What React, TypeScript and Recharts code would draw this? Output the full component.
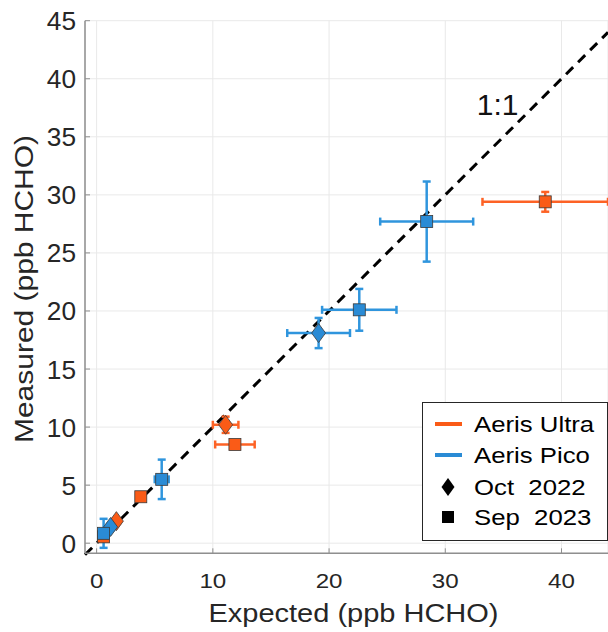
import React from "react";
import {
  ScatterChart,
  Scatter,
  XAxis,
  YAxis,
  CartesianGrid,
  ErrorBar,
  ReferenceLine,
  ReferenceDot,
  Legend,
} from "recharts";

const FONT = "'Liberation Sans', Arial, Helvetica, sans-serif";
const ORANGE = "#FA5B17";
const BLUE = "#2A8BD5";
const ORANGE_BAR = "#FD6225";
const BLUE_BAR = "#2F95DD";
const EDGE = "#3a3a3a";
const AXIS = "#8f8f8f";
const TEXT = "#262626";

// Aeris Ultra, Oct 2022 (diamonds)
const ultraOctX = [1.7, 11.1];
const ultraOctY = [1.9, 10.2];
const ultraOctXErr = [0.3, 1.1];
const ultraOctYErr = [0.2, 0.7];

// Aeris Ultra, Sep 2023 (squares)
const ultraSepX = [0.6, 3.8, 11.9, 38.6];
const ultraSepY = [0.55, 4.0, 8.5, 29.4];
const ultraSepXErr = [0.2, 0.35, 1.7, 5.4];
const ultraSepYErr = [0.2, 0.35, 0.2, 0.85];

// Aeris Pico, Oct 2022 (diamonds)
const picoOctX = [1.2, 19.1];
const picoOctY = [1.4, 18.1];
const picoOctXErr = [0.3, 2.7];
const picoOctYErr = [0.3, 1.3];

// Aeris Pico, Sep 2023 (squares)
const picoSepX = [0.6, 5.6, 22.6, 28.4];
const picoSepY = [0.85, 5.5, 20.1, 27.7];
const picoSepXErr = [0.3, 0.6, 3.2, 4.0];
const picoSepYErr = [1.25, 1.7, 1.8, 3.45];

const xTicks = [0, 10, 20, 30, 40];
const yTicks = [0, 5, 10, 15, 20, 25, 30, 35, 40, 45];
const xDomain = [-1, 44];
const yDomain = [-0.87, 45];
const oneToOne = [-1, 44];
const oneToOneLabel = { text: "1:1", x: 34.5, y: 37.8 };

const instruments = ["Aeris Ultra", "Aeris Pico"];
const campaigns = ["Oct  2022", "Sep  2023"];

function toPoints(xs: number[], ys: number[], xe: number[], ye: number[]) {
  return xs.map((x, i) => ({ x, y: ys[i], ex: xe[i], ey: ye[i] }));
}

const ultraOct = toPoints(ultraOctX, ultraOctY, ultraOctXErr, ultraOctYErr);
const ultraSep = toPoints(ultraSepX, ultraSepY, ultraSepXErr, ultraSepYErr);
const picoOct = toPoints(picoOctX, picoOctY, picoOctXErr, picoOctYErr);
const picoSep = toPoints(picoSepX, picoSepY, picoSepXErr, picoSepYErr);

const square = (fill: string) => (p: any) => (
  <rect
    x={p.cx - 6}
    y={p.cy - 6}
    width={12}
    height={12}
    fill={fill}
    stroke={EDGE}
    strokeWidth={0.8}
  />
);

const diamond = (fill: string) => (p: any) => (
  <polygon
    points={`${p.cx},${p.cy - 9.5} ${p.cx + 7},${p.cy} ${p.cx},${p.cy + 9.5} ${p.cx - 7},${p.cy}`}
    fill={fill}
    stroke={EDGE}
    strokeWidth={0.8}
  />
);

function XTick(props: any) {
  const { x, y, payload } = props;
  return (
    <g>
      <line x1={x} y1={y} x2={x} y2={y - 5} stroke={AXIS} />
      <text
        transform={`translate(${x},${y + 35}) scale(1.15,1)`}
        textAnchor="middle"
        fontSize={21}
        fontFamily={FONT}
        fill={TEXT}
      >
        {payload.value}
      </text>
    </g>
  );
}

function TopTick(props: any) {
  const { x, y } = props;
  return <line x1={x} y1={y} x2={x} y2={y + 5} stroke={AXIS} />;
}

function YTick(props: any) {
  const { x, y, payload } = props;
  return (
    <g>
      <line x1={x} y1={y} x2={x + 5} y2={y} stroke={AXIS} />
      <text
        transform={`translate(${x - 9},${y + 9.5}) scale(1.05,1)`}
        textAnchor="end"
        fontSize={25}
        fontFamily={FONT}
        fill={TEXT}
      >
        {payload.value}
      </text>
    </g>
  );
}

function XTitle(props: any) {
  const vb = props.viewBox;
  return (
    <text
      x={vb.x + vb.width / 2 + 7}
      y={vb.y + 68.5}
      textAnchor="middle"
      fontSize={26}
      fontFamily={FONT}
      fill={TEXT}
      textLength={290}
      lengthAdjust="spacingAndGlyphs"
    >
      Expected (ppb HCHO)
    </text>
  );
}

function YTitle(props: any) {
  const vb = props.viewBox;
  const cy = vb.y + vb.height / 2 + 2;
  return (
    <text
      transform={`translate(33,${cy}) rotate(-90)`}
      textAnchor="middle"
      fontSize={26}
      fontFamily={FONT}
      fill={TEXT}
      textLength={308}
      lengthAdjust="spacingAndGlyphs"
    >
      Measured (ppb HCHO)
    </text>
  );
}

function LegendBox() {
  const rows = [22, 53, 85, 115];
  const label = (text: string, cy: number) => (
    <text
      transform={`translate(52,${cy + 8}) scale(1.12,1)`}
      fontSize={23}
      fontFamily={FONT}
      fill="#000"
      style={{ whiteSpace: "pre" }}
    >
      {text}
    </text>
  );
  return (
    <svg width={186} height={139} style={{ display: "block" }}>
      <rect x={0.5} y={0.5} width={185} height={138} fill="#fff" stroke="#262626" />
      <line x1={13} y1={rows[0]} x2={40} y2={rows[0]} stroke={ORANGE} strokeWidth={4} />
      {label(instruments[0], rows[0])}
      <line x1={13} y1={rows[1]} x2={40} y2={rows[1]} stroke={BLUE} strokeWidth={4} />
      {label(instruments[1], rows[1])}
      <polygon
        points={`26,${rows[2] - 9} 32.5,${rows[2]} 26,${rows[2] + 9} 19.5,${rows[2]}`}
        fill="#000"
      />
      {label(campaigns[0], rows[2])}
      <rect x={20} y={rows[3] - 6} width={12} height={12} fill="#000" />
      {label(campaigns[1], rows[3])}
    </svg>
  );
}

export default function App() {
  return (
    <div
      style={{
        position: "absolute",
        left: 0,
        top: 0,
        width: 608,
        height: 632,
        background: "#fff",
      }}
    >
      <ScatterChart
        width={608}
        height={632}
        margin={{ top: 20.7, right: 0, bottom: 0, left: 0 }}
      >
        <CartesianGrid stroke="#e9e9e9" strokeWidth={1} />
        <XAxis
          dataKey="x"
          type="number"
          domain={xDomain}
          ticks={xTicks}
          interval={0}
          allowDataOverflow
          tickLine={false}
          tickSize={0}
          tickMargin={0}
          axisLine={{ stroke: AXIS, strokeWidth: 1.5 }}
          tick={XTick}
          height={78.7}
          label={{ content: XTitle }}
        />
        <XAxis
          xAxisId="top"
          orientation="top"
          type="number"
          domain={xDomain}
          ticks={xTicks}
          interval={0}
          allowDataOverflow
          tickLine={false}
          tickSize={0}
          tickMargin={0}
          axisLine={{ stroke: AXIS, strokeWidth: 1.5 }}
          tick={TopTick}
          height={0}
        />
        <YAxis
          dataKey="y"
          type="number"
          domain={yDomain}
          ticks={yTicks}
          interval={0}
          allowDataOverflow
          tickLine={false}
          tickSize={0}
          tickMargin={0}
          axisLine={{ stroke: AXIS, strokeWidth: 1.5 }}
          tick={YTick}
          width={85}
          label={{ content: YTitle }}
        />
        <ReferenceLine
          segment={[
            { x: oneToOne[0], y: oneToOne[0] },
            { x: oneToOne[1], y: oneToOne[1] },
          ]}
          stroke="#000"
          strokeWidth={3}
          strokeDasharray="10 7"
          ifOverflow="visible"
        />
        <ReferenceDot
          x={oneToOneLabel.x}
          y={oneToOneLabel.y}
          r={0}
          fill="none"
          stroke="none"
          label={{
            value: oneToOneLabel.text,
            position: "center",
            fontSize: 30,
            fontFamily: FONT,
            fill: "#111",
          }}
        />
        <Scatter data={ultraOct} shape={diamond(ORANGE)} isAnimationActive={false}>
          <ErrorBar dataKey="ex" direction="x" width={4} stroke={ORANGE_BAR} strokeWidth={2.5} />
          <ErrorBar dataKey="ey" direction="y" width={4} stroke={ORANGE_BAR} strokeWidth={2.5} />
        </Scatter>
        <Scatter data={ultraSep} shape={square(ORANGE)} isAnimationActive={false}>
          <ErrorBar dataKey="ex" direction="x" width={4} stroke={ORANGE_BAR} strokeWidth={2.5} />
          <ErrorBar dataKey="ey" direction="y" width={4} stroke={ORANGE_BAR} strokeWidth={2.5} />
        </Scatter>
        <Scatter data={picoOct} shape={diamond(BLUE)} isAnimationActive={false}>
          <ErrorBar dataKey="ex" direction="x" width={4} stroke={BLUE_BAR} strokeWidth={2.5} />
          <ErrorBar dataKey="ey" direction="y" width={4} stroke={BLUE_BAR} strokeWidth={2.5} />
        </Scatter>
        <Scatter data={picoSep} shape={square(BLUE)} isAnimationActive={false}>
          <ErrorBar dataKey="ex" direction="x" width={4} stroke={BLUE_BAR} strokeWidth={2.5} />
          <ErrorBar dataKey="ey" direction="y" width={4} stroke={BLUE_BAR} strokeWidth={2.5} />
        </Scatter>
        <Legend
          layout="vertical"
          align="center"
          verticalAlign="middle"
          content={LegendBox}
          wrapperStyle={{ left: 422, top: 402, width: 186, height: 139 }}
        />
      </ScatterChart>
    </div>
  );
}
